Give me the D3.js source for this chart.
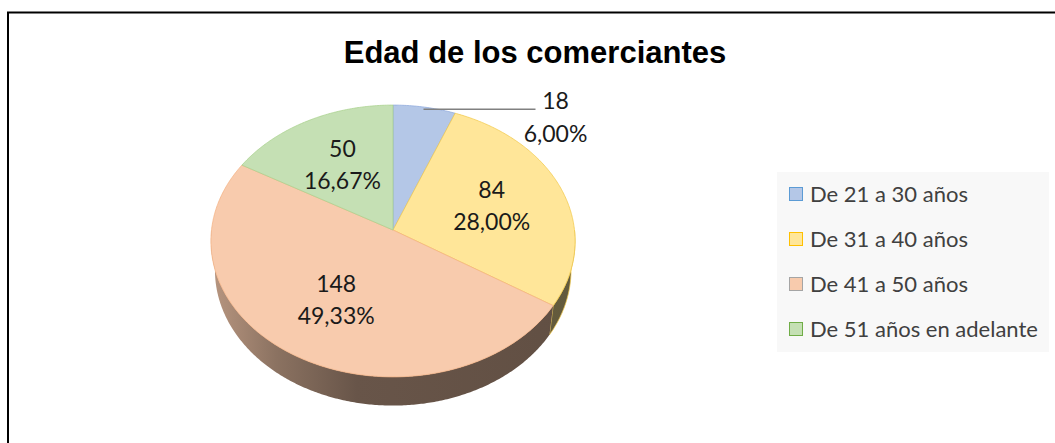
<!DOCTYPE html>
<html lang="es">
<head>
<meta charset="UTF-8">
<title>Edad de los comerciantes</title>
<script src="https://d3js.org/d3.v7.min.js"></script>
<style>
  body { margin: 0; background: #fff; }
  svg { display: block; }
  .title { font-family: "Liberation Sans", Arial, sans-serif; font-weight: bold; font-size: 31px; fill: #000; }
  .dlabel { font-family: Lato, "Open Sans", sans-serif; font-size: 23px; fill: #1a1a1a; }
  .legend text { font-family: Lato, "Open Sans", sans-serif; font-size: 22px; fill: #404040; }
</style>
</head>
<body>
<div id="chart"></div>
<script>
// datos
const categories = ["De 21 a 30 años", "De 31 a 40 años", "De 41 a 50 años", "De 51 años en adelante"];
const counts = [18, 84, 148, 50];
const title = "Edad de los comerciantes";

// colores
const fills = ["#b4c7e7", "#ffe699", "#f8cbad", "#c5e0b4"];
const edges = ["#8faadc", "#f2c94c", "#f4b183", "#a9d18e"];
const legendEdges = ["#5b9bd5", "#ffc000", "#a5a5a5", "#70ad47"];

const width = 1055, height = 443;

const svg = d3.select("#chart").append("svg")
  .attr("width", width)
  .attr("height", height);

// marco del gráfico
svg.append("rect")
  .attr("x", 8).attr("y", 12.5)
  .attr("width", width + 20).attr("height", height + 20)
  .attr("fill", "#fff")
  .attr("stroke", "#000")
  .attr("stroke-width", 2);

svg.append("text")
  .attr("class", "title")
  .attr("x", 535).attr("y", 63)
  .attr("text-anchor", "middle")
  .text(title);

// proyección 3D en perspectiva (radio 1)
const cx = 393, cy = 230;
const D = 8.26, sinP = 0.744, cosP = 0.668, F = 1499, H = 0.25;
function proj(theta, r, y) {
  const x = r * Math.sin(theta), z = r * Math.cos(theta);
  const depth = D + z * cosP - y * sinP;
  return [cx + F * x / depth, cy - F * (y * cosP + z * sinP) / depth];
}

const color = d3.scaleOrdinal(categories, fills);
const edgeColor = d3.scaleOrdinal(categories, edges);

const pie = d3.pie().sort(null).value(d => d.value);
const arcs = pie(categories.map((c, i) => ({ name: c, value: counts[i] })));
const total = d3.sum(counts);

const line = d3.line();
function arcPoints(a0, a1, y) {
  const n = Math.max(2, Math.ceil((a1 - a0) / 0.01));
  return d3.range(n + 1).map(k => proj(a0 + (a1 - a0) * k / n, 1, y));
}

const defs = svg.append("defs");
const pieG = svg.append("g");

// paredes laterales visibles (mitad frontal)
arcs.forEach((d, i) => {
  const a0 = Math.max(d.startAngle, Math.PI / 2);
  const a1 = Math.min(d.endAngle, Math.PI * 1.5);
  if (a1 <= a0) return;
  const base = d3.rgb(color(d.data.name));
  const shade = k => d3.rgb(base.r * k, base.g * k, base.b * k).formatHex();
  const grad = defs.append("linearGradient")
    .attr("id", "wall" + i)
    .attr("gradientUnits", "userSpaceOnUse")
    .attr("x1", cx - 182).attr("x2", cx + 182)
    .attr("y1", 0).attr("y2", 0);
  grad.append("stop").attr("offset", 0).attr("stop-color", shade(0.74));
  grad.append("stop").attr("offset", 0.18).attr("stop-color", shade(0.56));
  grad.append("stop").attr("offset", 0.4).attr("stop-color", shade(0.42));
  grad.append("stop").attr("offset", 1).attr("stop-color", shade(0.39));
  const pts = arcPoints(a0, a1, 0).concat(arcPoints(a0, a1, -H).reverse());
  pieG.append("path")
    .attr("d", line(pts) + "Z")
    .attr("fill", `url(#wall${i})`)
    .attr("stroke", i === 1 ? edgeColor(d.data.name) : "none")
    .attr("stroke-width", 0.75);
});

// caras superiores
pieG.selectAll(".slice")
  .data(arcs)
  .join("path")
  .attr("class", "slice")
  .attr("d", d => line([[cx, cy]].concat(arcPoints(d.startAngle, d.endAngle, 0))) + "Z")
  .attr("fill", d => color(d.data.name))
  .attr("stroke", d => edgeColor(d.data.name))
  .attr("stroke-width", 0.75)
  .attr("stroke-linejoin", "round");

// etiquetas de datos
const pctFmt = d3.formatLocale({ decimal: ",", thousands: ".", grouping: [3], currency: ["", "€"] }).format(".2%");
const labelG = svg.append("g");
arcs.forEach(d => {
  const mid = (d.startAngle + d.endAngle) / 2;
  const share = d.value / total;
  const g = labelG.append("text").attr("class", "dlabel").attr("text-anchor", "middle");
  if (share < 0.1) {
    const p = proj(mid, 1, 0);
    const yL = p[1] + 2;
    labelG.append("line")
      .attr("x1", p[0] - 1).attr("y1", yL)
      .attr("x2", p[0] + 111).attr("y2", yL)
      .attr("stroke", "#808080").attr("stroke-width", 1.5);
    g.append("tspan").attr("x", p[0] + 131).attr("y", yL).text(d.value);
    g.append("tspan").attr("x", p[0] + 131).attr("y", yL + 33).text(pctFmt(share));
  } else {
    const p = proj(mid, 0.58, 0);
    g.append("tspan").attr("x", p[0]).attr("y", p[1] - 8).text(d.value);
    g.append("tspan").attr("x", p[0]).attr("y", p[1] + 24).text(pctFmt(share));
  }
});

// leyenda
const legend = svg.append("g").attr("class", "legend");
legend.append("rect")
  .attr("x", 777).attr("y", 172)
  .attr("width", 272).attr("height", 180)
  .attr("fill", "#f8f8f8");
const rowY = d3.scalePoint().domain(categories).range([194, 329]);
const items = legend.selectAll(".item")
  .data(categories)
  .join("g")
  .attr("class", "item")
  .attr("transform", d => `translate(789,${rowY(d)})`);
items.append("rect")
  .attr("x", 0.5).attr("y", -6.5)
  .attr("width", 13).attr("height", 13)
  .attr("fill", d => color(d))
  .attr("stroke", (d, i) => legendEdges[i])
  .attr("stroke-width", 1);
items.append("text")
  .attr("x", 21).attr("y", 8)
  .text(d => d);
</script>
</body>
</html>
